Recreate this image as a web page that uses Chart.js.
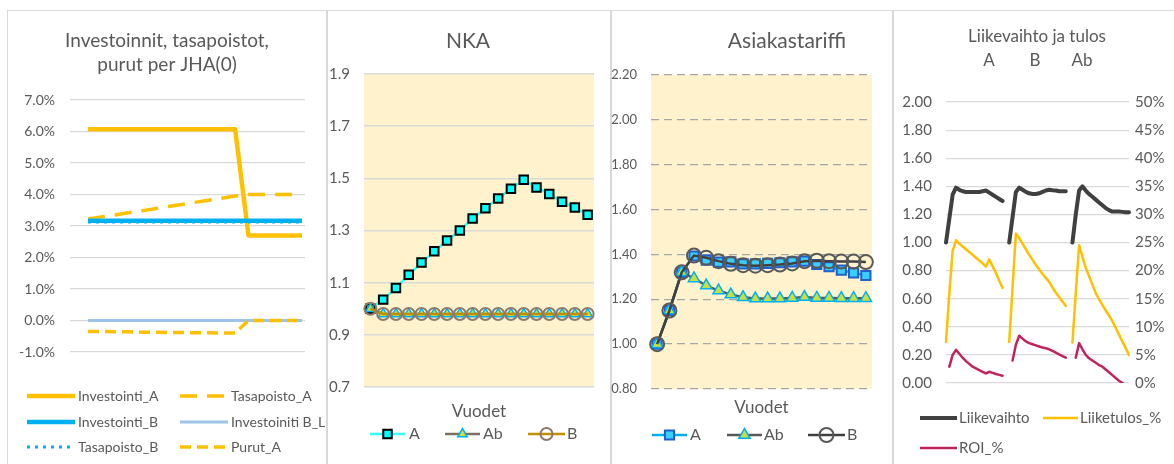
<!DOCTYPE html>
<html>
<head>
<meta charset="utf-8">
<script src="https://cdn.jsdelivr.net/npm/chart.js@4.4.1/dist/chart.umd.min.js"></script>
<style>
  body { margin: 0; background: #fff; }
  #wrap { position: relative; width: 1174px; height: 464px; overflow: hidden; background: #fff; }
  .panel { position: absolute; top: 10px; height: 470px; border: 1px solid #d9d9d9; box-sizing: border-box; }
  canvas { position: absolute; left: 0; top: 0; }
</style>
</head>
<body>
<div id="wrap">
  <div class="panel" style="left:7px;width:320px;"></div>
  <div class="panel" style="left:327px;width:284px;"></div>
  <div class="panel" style="left:611px;width:282px;"></div>
  <div class="panel" style="left:893px;width:290px;"></div>
  <canvas id="c1" width="1174" height="464"></canvas>
  <canvas id="c2" width="1174" height="464"></canvas>
  <canvas id="c3" width="1174" height="464"></canvas>
  <canvas id="c4" width="1174" height="464"></canvas>
</div>
<script>
// ---- data -------------------------------------------------------------

// Panel 1: Investoinnit, tasapoistot, purut per JHA(0)  (values in %)
const p1Title  = ["Investoinnit, tasapoistot,", "purut per JHA(0)"];
const p1Years  = [1, 2, 3, 4, 5, 6, 7, 8, 9, 10, 11, 12, 13, 14, 15, 16, 17];
const p1Names  = ["Investointi_A", "Tasapoisto_A", "Investointi_B", "Investoiniti B_L", "Tasapoisto_B", "Purut_A"];
const investA  = [6.07, 6.07, 6.07, 6.07, 6.07, 6.07, 6.07, 6.07, 6.07, 6.07, 6.07, 6.07, 2.7, 2.7, 2.7, 2.7, 2.7];
const tasaA    = [3.22, 3.29, 3.35, 3.42, 3.48, 3.55, 3.62, 3.68, 3.75, 3.82, 3.88, 3.95, 4.0, 4.0, 4.0, 4.0, 4.0];
const investB  = [3.17, 3.17, 3.17, 3.17, 3.17, 3.17, 3.17, 3.17, 3.17, 3.17, 3.17, 3.17, 3.17, 3.17, 3.17, 3.17, 3.17];
const investBL = [0, 0, 0, 0, 0, 0, 0, 0, 0, 0, 0, 0, 0, 0, 0, 0, 0];
const tasaB    = [3.13, 3.13, 3.13, 3.13, 3.13, 3.13, 3.13, 3.13, 3.13, 3.13, 3.13, 3.13, 3.13, 3.13, 3.13, 3.13, 3.13];
const purutA   = [-0.35, -0.35, -0.36, -0.36, -0.37, -0.37, -0.38, -0.38, -0.39, -0.39, -0.40, -0.40, 0, 0, 0, 0, 0];

// Panel 2: NKA
const p2Title = "NKA";
const years   = ["1", "2", "3", "4", "5", "6", "7", "8", "9", "10", "11", "12", "13", "14", "15", "16", "17", "18"];
const nkaA    = [1.00, 1.035, 1.08, 1.13, 1.177, 1.22, 1.262, 1.30, 1.346, 1.385, 1.423, 1.46, 1.495, 1.465, 1.44, 1.41, 1.388, 1.36];
const nkaAb   = [1.00, 0.98, 0.98, 0.98, 0.98, 0.98, 0.98, 0.98, 0.98, 0.98, 0.98, 0.98, 0.98, 0.98, 0.98, 0.98, 0.98, 0.98];
const nkaB    = [1.00, 0.98, 0.98, 0.98, 0.98, 0.98, 0.98, 0.98, 0.98, 0.98, 0.98, 0.98, 0.98, 0.98, 0.98, 0.98, 0.98, 0.98];

// Panel 3: Asiakastariffi
const p3Title = "Asiakastariffi";
const tarA  = [1.00, 1.15, 1.32, 1.393, 1.375, 1.366, 1.367, 1.358, 1.358, 1.36, 1.363, 1.367, 1.37, 1.355, 1.345, 1.33, 1.318, 1.306];
const tarAb = [1.00, 1.15, 1.32, 1.293, 1.261, 1.239, 1.221, 1.209, 1.203, 1.203, 1.203, 1.206, 1.21, 1.206, 1.206, 1.205, 1.205, 1.205];
const tarB  = [1.00, 1.15, 1.32, 1.395, 1.385, 1.37, 1.358, 1.352, 1.35, 1.352, 1.355, 1.36, 1.37, 1.372, 1.37, 1.368, 1.368, 1.366];

const scenNames = ["A", "Ab", "B"];
const xTitle    = "Vuodet";

// Panel 4: Liikevaihto ja tulos, segments A | B | Ab
const p4Title  = "Liikevaihto ja tulos";
const p4Scen   = ["A", "B", "Ab"];
const p4Names  = ["Liikevaihto", "Liiketulos_%", "ROI_%"];
const lvA   = [1.00, 1.17, 1.34, 1.39, 1.375, 1.365, 1.36, 1.36, 1.36, 1.36, 1.36, 1.365, 1.37, 1.355, 1.34, 1.325, 1.31, 1.295];
const lvB   = [1.00, 1.18, 1.36, 1.39, 1.375, 1.36, 1.35, 1.345, 1.345, 1.35, 1.36, 1.37, 1.375, 1.372, 1.37, 1.365, 1.365, 1.365];
const lvAb  = [1.00, 1.20, 1.37, 1.40, 1.37, 1.345, 1.325, 1.305, 1.285, 1.265, 1.245, 1.23, 1.22, 1.22, 1.22, 1.218, 1.215, 1.215];
const ltA   = [7.3, 16, 23.5, 25.4, 24.8, 24.3, 23.8, 23.3, 22.8, 22.3, 21.8, 21.3, 20.7, 22.0, 20.8, 19.6, 18.2, 16.9];
const ltB   = [7.3, 17, 26.6, 25.8, 24.8, 23.8, 22.8, 21.9, 21.0, 20.2, 19.4, 18.7, 18.0, 17.0, 16.1, 15.3, 14.5, 13.7];
const ltAb  = [7.2, 16, 24.5, 22.5, 20.5, 19.0, 17.5, 16.0, 14.9, 13.9, 12.9, 12.0, 11.0, 9.8, 8.6, 7.4, 6.2, 5.0];
const roiA  = [null, 2.9, 5.0, 5.9, 5.2, 4.5, 3.9, 3.4, 2.9, 2.6, 2.3, 2.0, 1.7, 2.0, 1.8, 1.6, 1.45, 1.3];
const roiB  = [null, 4.0, 6.8, 8.4, 7.9, 7.4, 7.1, 6.9, 6.7, 6.5, 6.3, 6.2, 6.0, 5.7, 5.4, 5.1, 4.8, 4.5];
const roiAb = [null, 4.5, 7.1, 6.0, 5.0, 4.4, 4.0, 3.6, 3.2, 2.9, 2.4, 1.9, 1.4, 0.9, 0.4, 0.0, -0.4, -0.8];

// ---- helpers ----------------------------------------------------------

const W = 1174, H = 464;
const TEXT = "#595959";
const FONT = 'Lato, "Liberation Sans", Arial, sans-serif';
Chart.defaults.font.family = FONT;
Chart.defaults.color = TEXT;

// all four canvases cover the whole page, so chart areas are given in page pixels.
// axis widths must cover the tick labels, Chart.js clips labels to the scale box
function padFor(area, yW, xH, rW) {
  return { left: area.l - yW, top: area.t, right: W - area.r - rW, bottom: H - area.b - xH };
}
const xy = (xs, ys) => ys.map((v, i) => ({ x: xs[i], y: v }));

function markerPath(ctx, style, x, y, r) {
  ctx.beginPath();
  if (style === "rect") {
    const s = r * Math.SQRT1_2;
    ctx.rect(x - s, y - s, 2 * s, 2 * s);
  } else if (style === "triangle") {
    let rad = 0;
    ctx.moveTo(x + Math.sin(rad) * r, y - Math.cos(rad) * r);
    rad += 2 * Math.PI / 3;
    ctx.lineTo(x + Math.sin(rad) * r, y - Math.cos(rad) * r);
    rad += 2 * Math.PI / 3;
    ctx.lineTo(x + Math.sin(rad) * r, y - Math.cos(rad) * r);
    ctx.closePath();
  } else {
    ctx.arc(x, y, r, 0, Math.PI * 2);
  }
}

// plot background + titles + legend drawn per chart
function decor(opts) {
  return {
    id: "decor",
    beforeDraw(chart) {
      if (!opts.plotBg) return;
      const { ctx, chartArea: a } = chart;
      ctx.save();
      ctx.fillStyle = opts.plotBg;
      ctx.fillRect(a.left, a.top, a.right - a.left, a.bottom - a.top);
      ctx.restore();
    },
    afterDraw(chart) {
      const ctx = chart.ctx;
      ctx.save();
      ctx.fillStyle = TEXT;
      ctx.textBaseline = "middle";
      (opts.titles || []).forEach(t => {
        ctx.font = `${t.size}px ${FONT}`;
        ctx.textAlign = "center";
        ctx.fillText(t.text, t.x, t.y);
      });
      (opts.legend || []).forEach(it => {
        const ds = chart.data.datasets[it.ds];
        ctx.beginPath();
        ctx.lineWidth = ds.borderWidth;
        ctx.strokeStyle = ds.borderColor;
        ctx.lineCap = "butt";
        ctx.setLineDash(ds.borderDash || []);
        ctx.moveTo(it.x1, it.y);
        ctx.lineTo(it.x2, it.y);
        ctx.stroke();
        ctx.setLineDash([]);
        if (ds.pointRadius > 0) {
          markerPath(ctx, ds.pointStyle, (it.x1 + it.x2) / 2, it.y, ds.pointRadius);
          ctx.fillStyle = ds.pointBackgroundColor;
          ctx.fill();
          ctx.lineWidth = ds.pointBorderWidth;
          ctx.strokeStyle = ds.pointBorderColor;
          ctx.stroke();
        }
        ctx.fillStyle = TEXT;
        ctx.font = `${opts.legendSize}px ${FONT}`;
        ctx.textAlign = "left";
        ctx.fillText(ds.label, it.tx, it.y);
      });
      ctx.restore();
    }
  };
}

const baseOpts = {
  responsive: false,
  animation: false,
  events: [],
  plugins: { legend: { display: false }, tooltip: { enabled: false } }
};

// ---- panel 1 ----------------------------------------------------------
const p1Area = { l: 70, t: 100, r: 305, b: 352 };
const p1Line = { pointRadius: 0, tension: 0, borderJoinStyle: "round", fill: false };
new Chart(document.getElementById("c1"), {
  type: "line",
  data: {
    datasets: [
      { ...p1Line, label: p1Names[0], data: xy(p1Years, investA),  borderColor: "#FFC000", borderWidth: 4.5, order: 6 },
      { ...p1Line, label: p1Names[1], data: xy(p1Years, tasaA),    borderColor: "#FFC000", borderWidth: 3.5, borderDash: [17, 10], order: 5 },
      { ...p1Line, label: p1Names[2], data: xy(p1Years, investB),  borderColor: "#00B0F0", borderWidth: 4.5, order: 4 },
      { ...p1Line, label: p1Names[3], data: xy(p1Years, investBL), borderColor: "#9DC3E6", borderWidth: 3, order: 3 },
      { ...p1Line, label: p1Names[4], data: xy(p1Years, tasaB),    borderColor: "#00B0F0", borderWidth: 3, borderDash: [3, 5], order: 2 },
      { ...p1Line, label: p1Names[5], data: xy(p1Years, purutA),   borderColor: "#FFC000", borderWidth: 3.5, borderDash: [11, 6], order: 1 }
    ]
  },
  options: {
    ...baseOpts,
    layout: { padding: padFor(p1Area, 62, 0, 0) },
    scales: {
      x: { type: "linear", min: -0.346, max: 17.224, display: false },
      y: {
        min: -1, max: 7,
        afterFit: s => { s.width = 62; },
        ticks: { stepSize: 1, padding: 15, font: { size: 14 }, callback: v => v.toFixed(1) + "%" },
        grid: { color: "#D9D9D9", lineWidth: 1.2, drawTicks: false },
        border: { display: false }
      }
    }
  },
  plugins: [decor({
    titles: [
      { text: p1Title[0], x: 167, y: 41, size: 19 },
      { text: p1Title[1], x: 167, y: 65, size: 19 }
    ],
    legendSize: 14,
    legend: [
      { ds: 0, x1: 27, x2: 75, tx: 78, y: 396 },
      { ds: 1, x1: 180, x2: 228, tx: 231, y: 396 },
      { ds: 2, x1: 27, x2: 75, tx: 78, y: 422 },
      { ds: 3, x1: 180, x2: 228, tx: 231, y: 422 },
      { ds: 4, x1: 27, x2: 75, tx: 78, y: 447 },
      { ds: 5, x1: 180, x2: 228, tx: 231, y: 447 }
    ]
  })]
});

// ---- panel 2 & 3 shared axis setup --------------------------------------
const XT_SIZE = 17;
function yearAxisHeight(titleY, area) {
  return titleY - area.b + XT_SIZE * 0.6;
}
function yearAxis(titleY, area) {
  const h = yearAxisHeight(titleY, area);
  return {
    offset: true,
    afterFit: s => { s.height = h; },
    ticks: { display: false },
    grid: { display: false, drawTicks: false },
    border: { display: false },
    title: { display: true, text: xTitle, font: { size: XT_SIZE }, padding: 0, color: TEXT }
  };
}

// ---- panel 2: NKA -----------------------------------------------------
const p2Area = { l: 364, t: 74, r: 594, b: 387 };
new Chart(document.getElementById("c2"), {
  type: "line",
  data: {
    labels: years,
    datasets: [
      { label: scenNames[0], data: nkaA, borderColor: "#33FFFF", borderWidth: 2.5, tension: 0,
        pointStyle: "rect", pointRadius: 6, pointBackgroundColor: "#00FFFF", pointBorderColor: "#000000", pointBorderWidth: 2, order: 3 },
      { label: scenNames[1], data: nkaAb, borderColor: "#7F6F62", borderWidth: 2.5, tension: 0,
        pointStyle: "triangle", pointRadius: 5.5, pointBackgroundColor: "#C9E03F", pointBorderColor: "#00B0F0", pointBorderWidth: 1.5, order: 2 },
      { label: scenNames[2], data: nkaB, borderColor: "#BF9000", borderWidth: 2.5, tension: 0,
        pointStyle: "circle", pointRadius: 6, pointBackgroundColor: "rgba(0,0,0,0)", pointBorderColor: "#8C7B6E", pointBorderWidth: 2, order: 1 }
    ]
  },
  options: {
    ...baseOpts,
    layout: { padding: padFor(p2Area, 38, yearAxisHeight(412, p2Area), 0) },
    scales: {
      x: yearAxis(412, p2Area),
      y: {
        min: 0.7, max: 1.9,
        afterFit: s => { s.width = 38; },
        ticks: { stepSize: 0.2, padding: 14, font: { size: 15 }, callback: v => v.toFixed(1) },
        grid: { color: "#D9D9D9", lineWidth: 1.5, drawTicks: false },
        border: { display: false }
      }
    }
  },
  plugins: [decor({
    plotBg: "#FFF2CC",
    titles: [{ text: p2Title, x: 468, y: 41, size: 21 }],
    legendSize: 16,
    legend: [
      { ds: 0, x1: 370, x2: 405, tx: 409, y: 434 },
      { ds: 1, x1: 445, x2: 480, tx: 483, y: 434 },
      { ds: 2, x1: 528, x2: 565, tx: 567, y: 434 }
    ]
  })]
});

// ---- panel 3: Asiakastariffi ------------------------------------------
const p3Area = { l: 651, t: 75, r: 872, b: 389 };
new Chart(document.getElementById("c3"), {
  type: "line",
  data: {
    labels: years,
    datasets: [
      { label: scenNames[0], data: tarA, borderColor: "#00B0F0", borderWidth: 2.5, tension: 0,
        pointStyle: "rect", pointRadius: 6.5, pointBackgroundColor: "#3CCFF5", pointBorderColor: "#1F5FD0", pointBorderWidth: 2, order: 3 },
      { label: scenNames[1], data: tarAb, borderColor: "#595959", borderWidth: 2.5, tension: 0,
        pointStyle: "triangle", pointRadius: 6.5, pointBackgroundColor: "#C5E043", pointBorderColor: "#00B0F0", pointBorderWidth: 1.5, order: 2 },
      { label: scenNames[2], data: tarB, borderColor: "#404040", borderWidth: 2.5, tension: 0,
        pointStyle: "circle", pointRadius: 7, pointBackgroundColor: "rgba(0,0,0,0)", pointBorderColor: "#595959", pointBorderWidth: 2, order: 1 }
    ]
  },
  options: {
    ...baseOpts,
    layout: { padding: padFor(p3Area, 44, yearAxisHeight(408, p3Area), 0) },
    scales: {
      x: yearAxis(408, p3Area),
      y: {
        min: 0.8, max: 2.2,
        afterFit: s => { s.width = 44; },
        ticks: { stepSize: 0.2, padding: 14, font: { size: 13 }, callback: v => v.toFixed(2) },
        grid: { color: "#A6A6A6", lineWidth: 1.3, drawTicks: false },
        border: { display: false, dash: [8, 5] }
      }
    }
  },
  plugins: [decor({
    plotBg: "#FFF2CC",
    titles: [{ text: p3Title, x: 787, y: 41, size: 21 }],
    legendSize: 16,
    legend: [
      { ds: 0, x1: 652, x2: 687, tx: 690, y: 435 },
      { ds: 1, x1: 727, x2: 762, tx: 764, y: 435 },
      { ds: 2, x1: 808, x2: 845, tx: 847, y: 435 }
    ]
  })]
});

// ---- panel 4: Liikevaihto ja tulos ------------------------------------
const p4Labels = [...years, "", ...years, "", ...years];
const lvAll  = [...lvA, null, ...lvB, null, ...lvAb];
const ltAll  = [...ltA, null, ...ltB, null, ...ltAb];
const roiAll = [...roiA, null, ...roiB, null, ...roiAb];
const p4Area = { l: 946, t: 102, r: 1129, b: 383 };
const p4Line = { pointRadius: 0, tension: 0, borderJoinStyle: "round", borderCapStyle: "round" };
new Chart(document.getElementById("c4"), {
  type: "line",
  data: {
    labels: p4Labels,
    datasets: [
      { ...p4Line, label: p4Names[0], data: lvAll,  yAxisID: "y",  borderColor: "#404040", borderWidth: 4, order: 3 },
      { ...p4Line, label: p4Names[1], data: ltAll,  yAxisID: "y1", borderColor: "#FFC000", borderWidth: 2.5, order: 2 },
      { ...p4Line, label: p4Names[2], data: roiAll, yAxisID: "y1", borderColor: "#C0245C", borderWidth: 2.5, order: 1 }
    ]
  },
  options: {
    ...baseOpts,
    layout: { padding: padFor(p4Area, 48, 0, 45) },
    scales: {
      x: { display: false, offset: false },
      y: {
        position: "left", min: 0, max: 2,
        afterFit: s => { s.width = 48; },
        ticks: { stepSize: 0.2, padding: 14, font: { size: 15 }, callback: v => v.toFixed(2) },
        grid: { color: "#D9D9D9", lineWidth: 1.2, drawTicks: false },
        border: { display: false }
      },
      y1: {
        position: "right", min: 0, max: 50,
        afterFit: s => { s.width = 45; },
        ticks: { stepSize: 5, padding: 6, font: { size: 15 }, callback: v => v + "%" },
        grid: { display: false, drawTicks: false },
        border: { display: false }
      }
    }
  },
  plugins: [decor({
    titles: [
      { text: p4Title, x: 1037, y: 37, size: 17 },
      { text: p4Scen[0], x: 989, y: 61, size: 17 },
      { text: p4Scen[1], x: 1035, y: 61, size: 17 },
      { text: p4Scen[2], x: 1082, y: 61, size: 17 }
    ],
    legendSize: 15,
    legend: [
      { ds: 0, x1: 920, x2: 957, tx: 959, y: 418 },
      { ds: 1, x1: 1043, x2: 1078, tx: 1080, y: 418 },
      { ds: 2, x1: 920, x2: 957, tx: 959, y: 448 }
    ]
  })]
});
</script>
</body>
</html>
